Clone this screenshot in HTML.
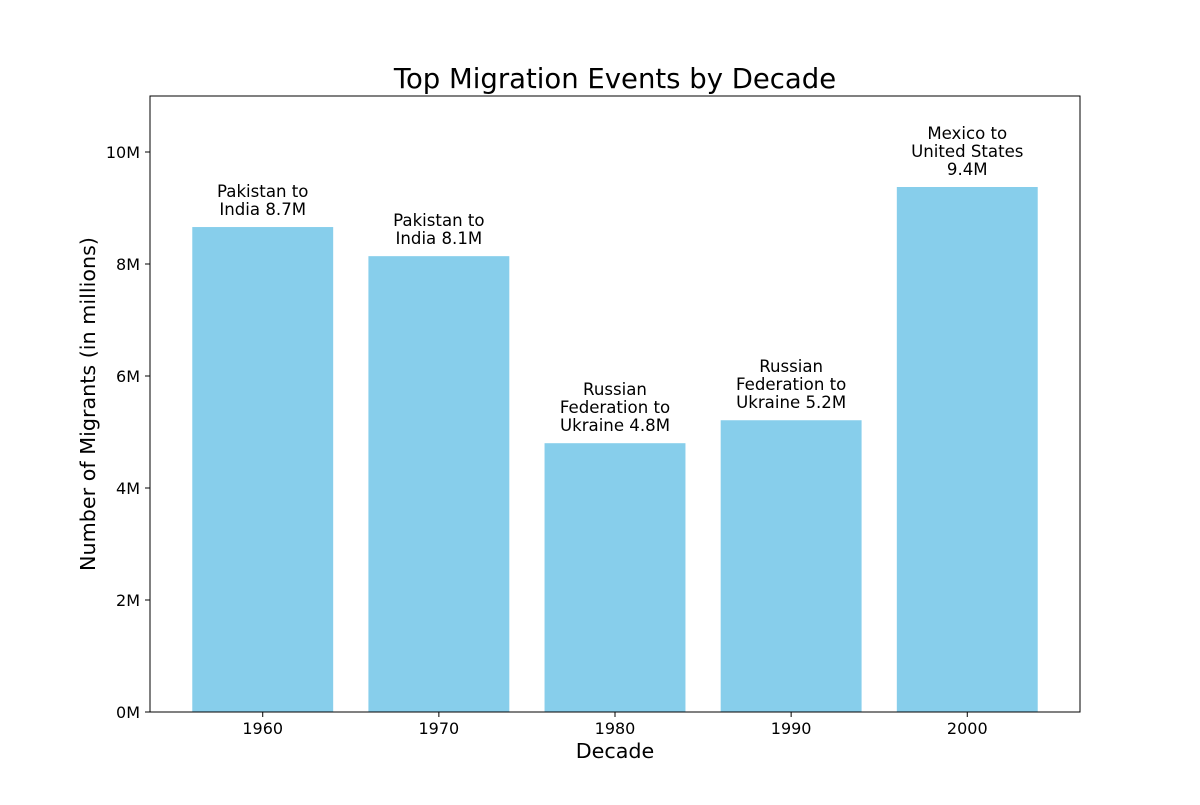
<!DOCTYPE html>
<html><head><meta charset="utf-8"><style>
body{margin:0;background:#fff}
svg text{font-family:"DejaVu Sans","Liberation Sans",sans-serif;fill:#000}
</style></head><body>
<svg id="c" width="1200" height="800">
<rect width="1200" height="800" fill="#fff"/>
<text x="615" y="88" font-size="27.5" text-anchor="middle">Top Migration Events by Decade</text>
<g id="bars"></g>
<g id="ticks"></g>
<rect x="150" y="96" width="930" height="616" fill="none" stroke="#000" stroke-width="1"/>
<text x="615" y="758" font-size="20.7" text-anchor="middle">Decade</text>
<text transform="translate(95,404) rotate(-90)" font-size="20.7" text-anchor="middle">Number of Migrants (in millions)</text>
</svg>
<script>
const categories=["1960","1970","1980","1990","2000"];
const values=[8.66,8.14,4.80,5.21,9.375];
const labels=[["Pakistan to","India 8.7M"],["Pakistan to","India 8.1M"],["Russian","Federation to","Ukraine 4.8M"],["Russian","Federation to","Ukraine 5.2M"],["Mexico to","United States","9.4M"]];
const yTicks=[0,2,4,6,8,10];
const yTickLabels=["0M","2M","4M","6M","8M","10M"];
const NS="http://www.w3.org/2000/svg";
const x=i=>150+(i+0.64)*(930/5.28);
const bw=0.8*930/5.28;
const y=v=>712-v*56;
const bars=document.getElementById('bars'),ticks=document.getElementById('ticks');
function mk(tag,attrs,parent){const e=document.createElementNS(NS,tag);for(const k in attrs)e.setAttribute(k,attrs[k]);parent.appendChild(e);return e;}
categories.forEach((c,i)=>{
 const r=mk('rect',{x:x(i)-bw/2,y:y(values[i]),width:bw,height:712-y(values[i]),fill:'#87ceeb'},bars);
 
 
 const ls=labels[i];
 ls.forEach((l,j)=>{
  const t=mk('text',{x:x(i),y:y(values[i])-12-(ls.length-1-j)*18,'font-size':16.6,'text-anchor':'middle'},bars);
  t.textContent=l;
  
  
 });
 const tk=mk('line',{x1:x(i),x2:x(i),y1:712,y2:717,stroke:'#000'},ticks);
 
 
 const tl=mk('text',{x:x(i),y:734,'font-size':16,'text-anchor':'middle'},ticks);
 tl.textContent=c;
 
 
});
yTicks.forEach((v,i)=>{
 const tk=mk('line',{x1:145,x2:150,y1:y(v),y2:y(v),stroke:'#000'},ticks);
 
 
 const tl=mk('text',{x:140,y:y(v)+6,'font-size':16,'text-anchor':'end'},ticks);
 tl.textContent=yTickLabels[i];
 
 
});
</script>
</body></html>
